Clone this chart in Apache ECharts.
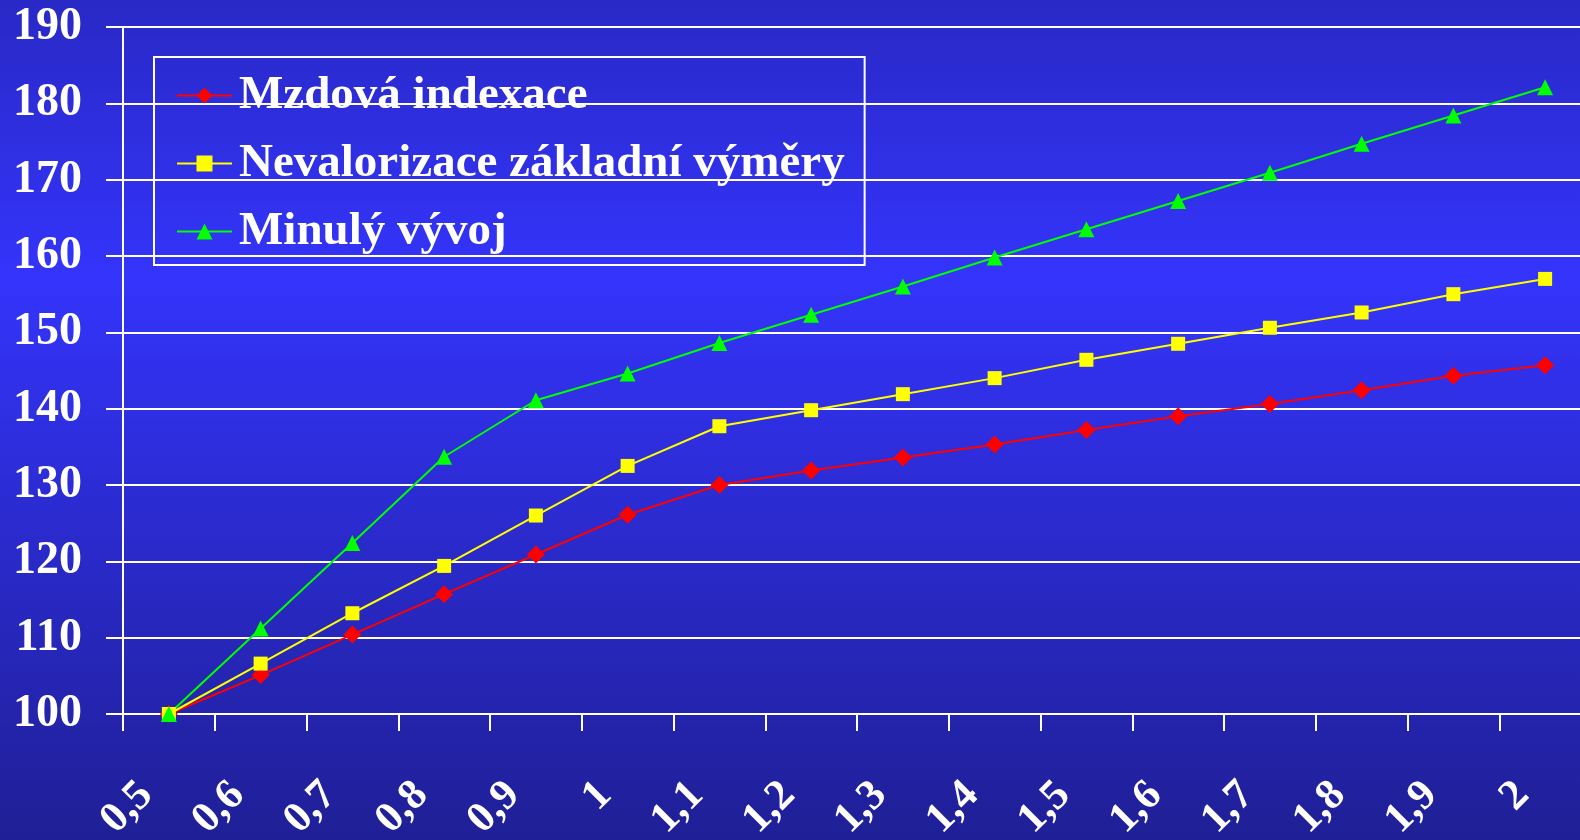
<!DOCTYPE html>
<html>
<head>
<meta charset="utf-8">
<script src="https://cdn.jsdelivr.net/npm/echarts@6/dist/echarts.min.js"></script>
<style>
  html, body { margin: 0; padding: 0; }
  #chart { width: 1580px; height: 840px; }
</style>
</head>
<body>
<div id="chart"></div>
<script>
// kategorie (osa x)
const categories = ['0,5', '0,6', '0,7', '0,8', '0,9', '1', '1,1', '1,2', '1,3', '1,4', '1,5', '1,6', '1,7', '1,8', '1,9', '2'];

// hodnoty řad
const mzdovaIndexace = [100, 105.1, 110.4, 115.7, 120.9, 126.1, 130.0, 131.9, 133.6, 135.3, 137.2, 139.0, 140.6, 142.4, 144.3, 145.7];
const nevalorizace = [100, 106.6, 113.2, 119.4, 126.0, 132.5, 137.7, 139.8, 141.9, 144.0, 146.4, 148.5, 150.6, 152.6, 155.0, 157.0];
const minulyVyvoj = [100, 111.2, 122.4, 133.7, 141.1, 144.6, 148.6, 152.3, 156.0, 159.8, 163.5, 167.2, 170.9, 174.7, 178.4, 182.1];

const seriesNames = ['Mzdová indexace', 'Nevalorizace základní výměry', 'Minulý vývoj'];

// osa y
const yMin = 100;
const yMax = 190;
const yStep = 10;

const fontFamily = '"Liberation Serif", "Times New Roman", serif';

const chart = echarts.init(document.getElementById('chart'));

const makeSeries = (name, data, color, symbol, size) => ({
  name: name,
  type: 'line',
  data: data,
  symbol: symbol,
  symbolSize: size,
  showSymbol: true,
  lineStyle: { color: color, width: 2 },
  itemStyle: { color: color },
  emphasis: { disabled: true },
  z: 3
});

const option = {
  animation: false,
  backgroundColor: {
    type: 'linear', x: 0, y: 0, x2: 0, y2: 1,
    colorStops: [
      { offset: 0, color: '#2929c6' },
      { offset: 0.33, color: '#3434fc' },
      { offset: 1, color: '#1f1f96' }
    ]
  },
  grid: {
    left: 123,
    right: -11,
    top: 27,
    bottom: 126,
    outerBoundsMode: 'none'
  },
  legend: {
    orient: 'vertical',
    left: 154,
    top: 57,
    padding: [12, 20, 7, 22],
    itemGap: 15,
    itemWidth: 55,
    itemHeight: 20,
    borderColor: '#ffffff',
    borderWidth: 2,
    backgroundColor: 'transparent',
    textStyle: {
      color: '#ffffff',
      fontFamily: fontFamily,
      fontWeight: 'bold',
      fontSize: 47,
      lineHeight: 53,
      padding: [0, 0, 0, 2]
    },
    data: seriesNames
  },
  xAxis: {
    type: 'category',
    data: categories,
    boundaryGap: true,
    axisLine: { lineStyle: { color: '#ffffff', width: 2 } },
    axisTick: { show: true, length: 17, interval: 0, lineStyle: { color: '#ffffff', width: 2 } },
    axisLabel: {
      interval: 0,
      rotate: 45,
      margin: 52,
      padding: [0, 32, 0, 0],
      color: '#ffffff',
      fontFamily: fontFamily,
      fontWeight: 'bold',
      fontSize: 43
    },
    splitLine: { show: false }
  },
  yAxis: {
    type: 'value',
    min: yMin,
    max: yMax,
    interval: yStep,
    axisLine: { show: true, lineStyle: { color: '#ffffff', width: 2 } },
    axisTick: { show: true, length: 17, lineStyle: { color: '#ffffff', width: 2 } },
    axisLabel: {
      margin: 41,
      color: '#ffffff',
      fontFamily: fontFamily,
      fontWeight: 'bold',
      fontSize: 46
    },
    splitLine: { show: true, lineStyle: { color: '#ffffff', width: 2 } }
  },
  series: [
    makeSeries(seriesNames[0], mzdovaIndexace, '#ff0000', 'diamond', 18),
    makeSeries(seriesNames[1], nevalorizace, '#ffff00', 'rect', 14),
    makeSeries(seriesNames[2], minulyVyvoj, '#00ff00', 'triangle', 16)
  ]
};

chart.setOption(option);
</script>
</body>
</html>
